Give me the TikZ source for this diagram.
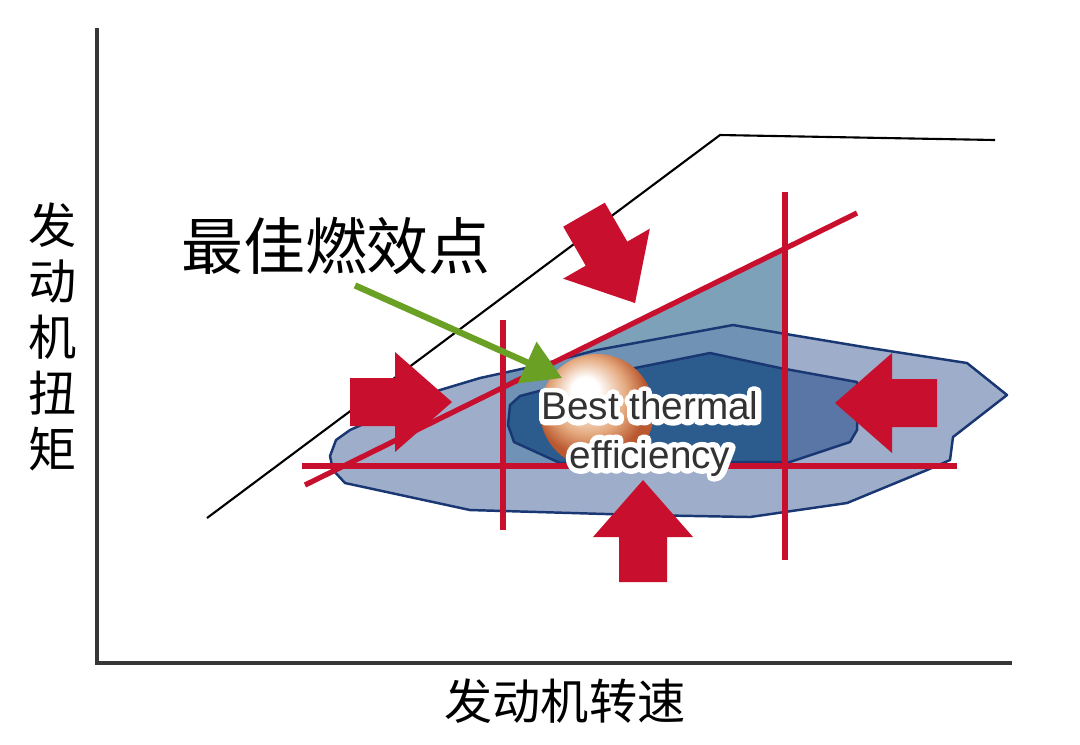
\documentclass[tikz,border=0pt]{standalone}
\usepackage{fontspec}
\newfontfamily\cjk{Noto Sans CJK SC}
\newfontfamily\arialfont{Liberation Sans}
\newfontfamily\haloarial[FakeBold=28]{Liberation Sans}
\usetikzlibrary{arrows.meta}
\definecolor{axisgrey}{RGB}{55,55,55}
\definecolor{linered}{RGB}{200,16,46}
\definecolor{pointgreen}{RGB}{106,160,35}
\definecolor{zonelight}{RGB}{158,173,201}
\definecolor{zonemid}{RGB}{90,118,166}
\definecolor{zoneband}{RGB}{112,146,180}
\definecolor{zoneteal}{RGB}{126,161,186}
\definecolor{zonedark}{RGB}{44,92,141}
\definecolor{zoneedge}{RGB}{25,55,115}
\definecolor{ballpeach}{RGB}{228,168,125}
\definecolor{ballrust}{RGB}{186,88,48}
\definecolor{textgrey}{RGB}{50,50,50}
\pgfdeclareradialshading{glowball}{\pgfpoint{-6bp}{10bp}}{color(0bp)=(white); color(6bp)=(white); color(17bp)=(ballpeach); color(25bp)=(ballrust); color(50bp)=(ballrust)}
\newcommand\outerzone{(330,456) -- (336,440) -- (350,430) -- (440,390) -- (480,378) -- (535,366) -- (597,350) -- (733,325) -- (780,333) -- (870,348) -- (967,363) -- (1007,395) -- (953,437) -- (950,460) -- (927,470) -- (847,503) -- (750,517) -- (640,515) -- (470,510) -- (345,483) -- (333,470) -- cycle}
\newcommand\innerzone{(508,425) -- (510,405) -- (520,396) -- (600,375) -- (710,353) -- (780,368) -- (857,382) -- (857,430) -- (850,442) -- (790,462) -- (560,463) -- (514,442) -- cycle}
\newcommand\wedgezone{(557,361) -- (785,248) -- (785,335) -- (733,325) -- (597,350) -- cycle}
\tikzset{
	axis/.style={draw=axisgrey, line width=0.9pt},
	limit/.style={draw=black, line width=0.6pt},
	redline/.style={draw=linered, line width=1.5pt},
	zone/.style={draw=zoneedge, line width=0.7pt, line join=round},
	axislabel/.style={font=\cjk\fontsize{13.7}{15.9}\selectfont, inner sep=0pt, align=center},
	biglabel/.style={font=\cjk\fontsize{17.6}{20}\selectfont, inner sep=0pt},
	besttext/.style={font=\arialfont\fontsize{11}{13.7}\selectfont, inner sep=0pt, align=center},
	halotext/.style={font=\haloarial\fontsize{11}{13.7}\selectfont, inner sep=0pt, align=center, text=white, line join=round, line cap=round},
	pointer/.style={draw=pointgreen, line width=1.8pt, -{Triangle[length=3.8mm, width=4.4mm]}},
	pics/blockarrow/.style={code={
		\fill[linered] (0,0) -- (-57,50) -- (-57,24) -- (-102,24) -- (-102,-24) -- (-57,-24) -- (-57,-50) -- cycle;
	}}
}
\begin{document}
\begin{tikzpicture}[x=0.01cm, y=-0.01cm]

\fill[white] (0,0) rectangle (1080,744);
\useasboundingbox (0,0) rectangle (1080,744);

\draw[axis] (97,28) -- (97,663) -- (1012,663);
\draw[limit] (207,518) -- (720,135) -- (995,140);

\fill[zonelight] \outerzone;
\fill[zonemid] \innerzone;
\begin{scope}
	\clip (503,0) rectangle (785,466);
	\fill[zoneband] \outerzone;
	\fill[zoneteal] \wedgezone;
	\fill[zonedark] \innerzone;
\end{scope}
\draw[zone] \outerzone;
\draw[zone] \innerzone;

\draw[redline] (302,466) -- (957,466);
\draw[redline] (503,320) -- (503,530);
\draw[redline] (785,192) -- (785,560);
\draw[redline] (305,485) -- (857,213);

\pic (leftpush) at (452,402) {blockarrow};
\pic[rotate=180] (rightpush) at (835,403) {blockarrow};
\pic[rotate=90] (bottompush) at (643,480) {blockarrow};
\pic[rotate=-60] (toppush) at (635,303) {blockarrow};

\node[circle, minimum size=1.14cm, inner sep=0pt, shade, shading=glowball] (ball) at (597,411) {};

\node[halotext] (halo) at (650,434) {Best thermal\\efficiency};
\node[besttext, text=textgrey] (best) at (650,434) {Best thermal\\efficiency};

\node[biglabel] (bestlabel) at (336,246) {最佳燃效点};
\node[axislabel] (ylabel) at (53,337) {发\\动\\机\\扭\\矩};
\node[axislabel] (xlabel) at (565,701) {发动机转速};

\draw[pointer, shorten >=-1mm] ([xshift=0.19cm, yshift=-0.1cm]bestlabel.south) -- (ball.140);

\end{tikzpicture}
\end{document}
